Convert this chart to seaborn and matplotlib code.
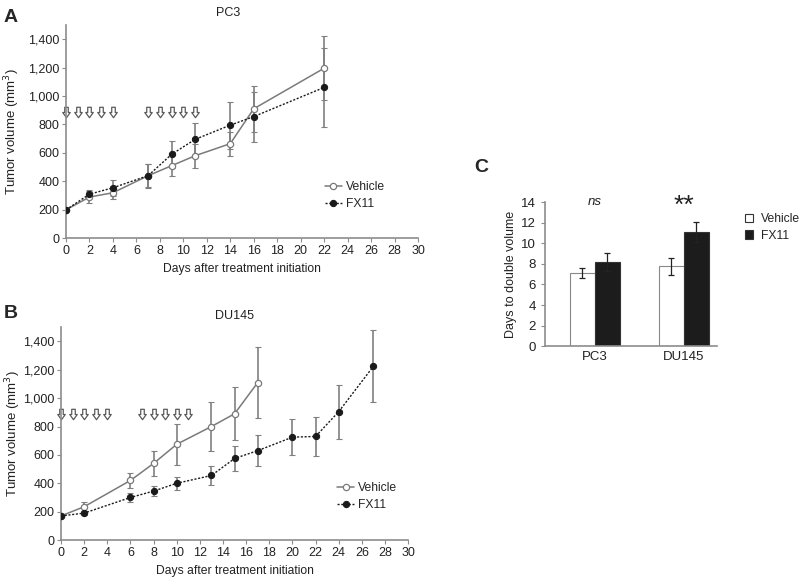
import numpy as np
import pandas as pd
import matplotlib
matplotlib.use("Agg")
import matplotlib.pyplot as plt
from matplotlib.path import Path
import seaborn as sns

# PC3 tumor volume
pc3_days = [0, 2, 4, 7, 9, 11, 14, 16, 22]
pc3_veh = [200, 290, 320, 440, 510, 580, 665, 910, 1195]
pc3_veh_err = [0, 40, 45, 80, 75, 85, 85, 160, 225]
pc3_fx = [200, 310, 355, 440, 590, 695, 795, 855, 1060]
pc3_fx_err = [0, 30, 55, 85, 95, 115, 165, 175, 280]

# DU145 tumor volume
du_veh_days = [0, 2, 6, 8, 10, 13, 15, 17]
du_veh = [170, 235, 420, 540, 675, 800, 890, 1110]
du_veh_err = [0, 30, 55, 90, 145, 175, 185, 250]
du_fx_days = [0, 2, 6, 8, 10, 13, 15, 17, 20, 22, 24, 27]
du_fx = [170, 190, 300, 345, 400, 455, 575, 630, 725, 730, 905, 1225]
du_fx_err = [0, 15, 35, 35, 45, 65, 90, 110, 125, 135, 190, 255]

# treatment days (arrows)
dose_days = [0, 1, 2, 3, 4, 7, 8, 9, 10, 11]

# days to double volume
lines = ["PC3", "DU145"]
dbl_veh = [7.1, 7.75]
dbl_veh_err = [0.5, 0.85]
dbl_fx = [8.2, 11.1]
dbl_fx_err = [0.85, 1.0]

sns.set_style("ticks")
plt.rcParams["font.family"] = ["Liberation Sans", "DejaVu Sans"]

fig = plt.figure(figsize=(8, 5.77), dpi=100)
axA = fig.add_axes([0.0825, 0.587, 0.44, 0.37])
axB = fig.add_axes([0.07625, 0.064, 0.434, 0.369])
axC = fig.add_axes([0.681, 0.400, 0.215, 0.2496])

veh_col = "#7a7a7a"
fx_col = "#1a1a1a"
err_col = "#808080"
spine_col = "#8c8c8c"
txt_col = "#222222"

# open down arrow marker
arrow = Path([(-0.17, 0.5), (0.17, 0.5), (0.17, 0.0), (0.36, 0.0), (0.0, -0.5),
              (-0.36, 0.0), (-0.17, 0.0), (-0.17, 0.5)], closed=True)


def growth_panel(ax, vd, vy, ve, fd, fy, fe, title, title_x, leg_anchor, ylab_x):
    ax.errorbar(vd, vy, yerr=ve, fmt="none", ecolor=err_col, elinewidth=1.2, capsize=2, capthick=0.8, zorder=1)
    ax.errorbar(fd, fy, yerr=fe, fmt="none", ecolor=err_col, elinewidth=1.2, capsize=2, capthick=0.8, zorder=1)
    dv = pd.DataFrame({"day": vd, "vol": vy})
    df = pd.DataFrame({"day": fd, "vol": fy})
    sns.lineplot(data=dv, x="day", y="vol", ax=ax, color=veh_col, lw=1.1, marker="o", ms=4.5,
                 markerfacecolor="white", markeredgecolor=veh_col, mew=0.9, label="Vehicle", zorder=3)
    sns.lineplot(data=df, x="day", y="vol", ax=ax, color=fx_col, lw=1.0, ls=(0, (1.5, 1.2)), marker="o", ms=4.5,
                 markerfacecolor=fx_col, markeredgecolor=fx_col, label="FX11", zorder=4)
    ax.plot(dose_days, [888] * len(dose_days), ls="none", marker=arrow, ms=7.5,
            mfc="white", mec="#5a5a5a", mew=0.9, clip_on=False)
    ax.set_xlim(0, 30)
    ax.set_ylim(0, 1500)
    ax.set_xticks(range(0, 31, 2))
    ax.set_yticks(range(0, 1401, 200))
    ax.set_yticklabels([f"{v:,}" for v in range(0, 1401, 200)])
    ax.set_xlabel("Days after treatment initiation", fontsize=8.7, color=txt_col, labelpad=4)
    ax.set_ylabel("Tumor volume (mm$^3$)", fontsize=9.5, color=txt_col)
    ax.yaxis.set_label_coords(ylab_x, 0.5)
    ax.set_title(title, fontsize=9, color=txt_col, pad=6, x=title_x)
    ax.tick_params(labelsize=9, length=3, color=spine_col, labelcolor=txt_col)
    ax.tick_params(axis="x", pad=2)
    ax.tick_params(axis="y", pad=1.5)
    for s in ["top", "right"]:
        ax.spines[s].set_visible(False)
    for s in ["left", "bottom"]:
        ax.spines[s].set_color(spine_col)
        ax.spines[s].set_linewidth(1.2)
    ax.legend(loc="upper left", bbox_to_anchor=leg_anchor, frameon=False, fontsize=8.7,
              handlelength=1.4, handletextpad=0.3, labelspacing=0.45)


growth_panel(axA, pc3_days, pc3_veh, pc3_veh_err, pc3_days, pc3_fx, pc3_fx_err, "PC3", 0.46, (0.705, 0.32), -0.125)
growth_panel(axB, du_veh_days, du_veh, du_veh_err, du_fx_days, du_fx, du_fx_err, "DU145", 0.5, (0.765, 0.325), -0.11)

# panel C
dbl = pd.DataFrame({
    "line": lines * 2,
    "group": ["Vehicle"] * 2 + ["FX11"] * 2,
    "days": dbl_veh + dbl_fx,
})
sns.barplot(data=dbl, x="line", y="days", hue="group", ax=axC, palette={"Vehicle": "white", "FX11": "#1c1c1c"},
            edgecolor="#333333", linewidth=0.8, width=0.56, errorbar=None)
axC.patches[0].set_edgecolor("#888888")
axC.patches[1].set_edgecolor("#888888")
errs = dbl_veh_err + dbl_fx_err
vals = dbl_veh + dbl_fx
for p, v, e in zip(axC.patches[:4], vals, errs):
    cx = p.get_x() + p.get_width() / 2
    axC.errorbar(cx, v, yerr=e, fmt="none", ecolor=txt_col, elinewidth=0.9, capsize=2.5, capthick=0.9)
axC.set_xlim(-0.56, 1.37)
axC.set_ylim(0, 14)
axC.set_yticks(range(0, 15, 2))
axC.set_xlabel("")
axC.set_ylabel("Days to double volume", fontsize=9, color=txt_col, labelpad=3)
axC.tick_params(labelsize=9.5, length=3, color=spine_col, labelcolor=txt_col)
axC.tick_params(axis="x", length=0)
for s in ["top", "right"]:
    axC.spines[s].set_visible(False)
for s in ["left", "bottom"]:
    axC.spines[s].set_color(spine_col)
    axC.spines[s].set_linewidth(1.2)
axC.text(0, 14, "ns", ha="center", va="center", fontsize=9.5, style="italic", color=txt_col)
axC.text(1, 13.6, "**", ha="center", va="center", fontsize=19, color=txt_col)
axC.legend(loc="upper left", bbox_to_anchor=(1.1, 1.0), frameon=False, fontsize=8.7,
           handlelength=0.7, handleheight=0.7, handletextpad=0.6, labelspacing=0.4)

fig.text(0.005, 0.962, "A", fontsize=14, fontweight="bold")
fig.text(0.005, 0.449, "B", fontsize=14, fontweight="bold")
fig.text(0.593, 0.702, "C", fontsize=14, fontweight="bold")

fig.savefig("out.png", dpi=100)
